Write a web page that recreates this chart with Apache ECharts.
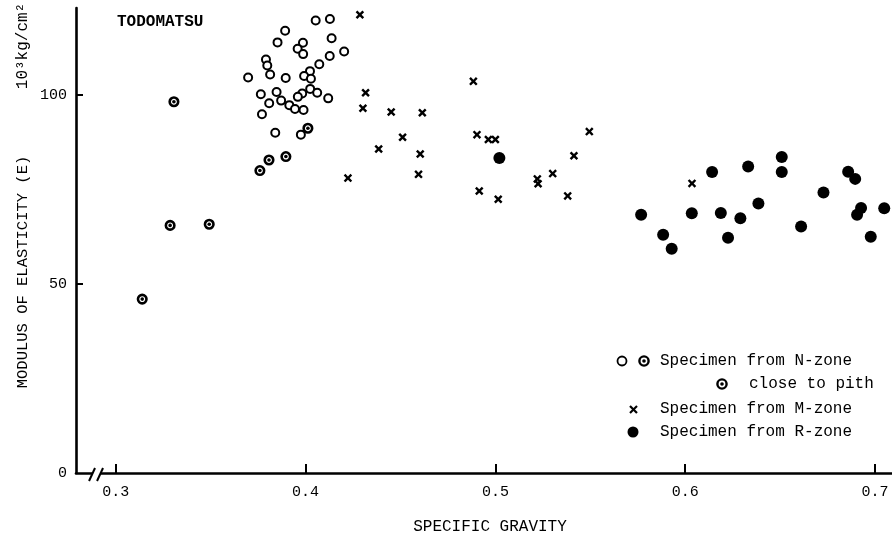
<!DOCTYPE html>
<html>
<head>
<meta charset="utf-8">
<script src="https://cdn.jsdelivr.net/npm/echarts@6/dist/echarts.min.js"></script>
<style>
html,body{margin:0;padding:0;background:#fff;}
#chart{width:892px;height:538px;}
</style>
</head>
<body>
<div id="chart"></div>
<script>
// ---- Data (specific gravity, modulus of elasticity 10^3 kg/cm^2) ----
const titleText = 'TODOMATSU';
const xTickValues = [0.3, 0.4, 0.5, 0.6, 0.7];
const yTickValues = [0, 50, 100];
const xAxisTitle = 'SPECIFIC GRAVITY';
const yAxisTitle = 'MODULUS OF ELASTICITY (E)';
const yUnit = '10³kg/cm²';
const legendLabels = ['Specimen from N-zone', 'close to pith', 'Specimen from M-zone', 'Specimen from R-zone'];

const nZoneOpen = [
  [0.4053,119.7],[0.4128,120.1],[0.3892,117.0],[0.3852,113.9],[0.4137,115.0],
  [0.3986,113.8],[0.3958,112.2],[0.3987,110.8],[0.4203,111.5],[0.4127,110.3],
  [0.3791,109.4],[0.3798,107.8],[0.4072,108.1],[0.4023,106.3],[0.3813,105.4],
  [0.3697,104.6],[0.3895,104.5],[0.3992,105.0],[0.4028,104.3],[0.3764,100.2],
  [0.3847,100.8],[0.3982,100.4],[0.4024,101.6],[0.4061,100.6],[0.3959,99.5],
  [0.4119,99.1],[0.3808,97.8],[0.3871,98.5],[0.3914,97.3],[0.3944,96.3],
  [0.3989,96.0],[0.3770,94.9],[0.3840,90.0],[0.3975,89.5]
];
const nZonePith = [
  [0.4012,91.2],[0.3807,82.8],[0.3896,83.7],[0.3759,80.0],
  [0.3306,98.2],[0.3286,65.5],[0.3492,65.8],[0.3139,46.0]
];
const mZone = [
  [0.4286,121.2],[0.4884,103.6],[0.4316,100.6],[0.4302,96.5],[0.4451,95.5],
  [0.4615,95.3],[0.4903,89.5],[0.4963,88.2],[0.5000,88.2],[0.5495,90.3],
  [0.4511,88.8],[0.4385,85.7],[0.4604,84.4],[0.5414,83.9],[0.4595,79.0],
  [0.4223,78.0],[0.5302,79.2],[0.5221,77.8],[0.5225,76.5],[0.4915,74.6],
  [0.5015,72.4],[0.5381,73.3],[0.6036,76.6]
];
const rZone = [
  [0.5021,83.3],[0.5768,68.3],[0.5884,63.0],[0.5929,59.3],[0.6035,68.7],
  [0.6142,79.6],[0.6188,68.8],[0.6226,62.2],[0.6291,67.4],[0.6332,81.1],
  [0.6386,71.3],[0.6509,83.6],[0.6509,79.6],[0.6611,65.2],[0.6729,74.2],
  [0.6859,79.7],[0.6896,77.8],[0.6927,70.1],[0.6906,68.3],[0.6978,62.5],
  [0.7049,70.0]
];

// ---- Chart ----
const FONT = '"Liberation Mono", "DejaVu Sans Mono", monospace';
const XPATH = 'path://M2,0L5,3L8,0L10,2L7,5L10,8L8,10L5,7L2,10L0,8L3,5L0,2Z';
const chart = echarts.init(document.getElementById('chart'), null, {renderer: 'canvas'});

const option = {
  backgroundColor: '#ffffff',
  animation: false,
  grid: {left: 76, right: 0, top: 8, bottom: 65, containLabel: false},
  xAxis: {
    type: 'value', min: 0.279, max: 0.709,
    axisLine: {show: true, onZero: false, lineStyle: {color: '#000', width: 2.6}},
    axisTick: {show: true, inside: true, length: 9, customValues: xTickValues, lineStyle: {color: '#000', width: 2}},
    axisLabel: {show: true, customValues: xTickValues, margin: 12, color: '#000', fontFamily: FONT, fontSize: 15,
      formatter: v => v.toFixed(1)},
    splitLine: {show: false}
  },
  yAxis: {
    type: 'value', min: 0, max: 123,
    axisLine: {show: true, onZero: false, lineStyle: {color: '#000', width: 2.6}},
    axisTick: {show: true, inside: true, length: 7, customValues: yTickValues.filter(v => v > 0), lineStyle: {color: '#000', width: 2}},
    axisLabel: {show: true, customValues: yTickValues, margin: 9, color: '#000', fontFamily: FONT, fontSize: 15,
      formatter: v => String(v)},
    splitLine: {show: false}
  },
  series: [
    {type: 'scatter', name: 'N-zone', data: nZoneOpen, symbol: 'circle', symbolSize: 8,
      itemStyle: {color: '#fff', borderColor: '#000', borderWidth: 2, opacity: 1}, z: 3},
    {type: 'scatter', name: 'N-zone pith ring', data: nZonePith, symbol: 'circle', symbolSize: 8.5,
      itemStyle: {color: '#fff', borderColor: '#000', borderWidth: 2.6, opacity: 1}, z: 3},
    {type: 'scatter', name: 'N-zone pith dot', data: nZonePith, symbol: 'circle', symbolSize: 3.6,
      itemStyle: {color: '#000', opacity: 1}, z: 4},
    {type: 'scatter', name: 'M-zone', data: mZone, symbol: XPATH, symbolSize: 8.5,
      itemStyle: {color: '#000', opacity: 1}, z: 3},
    {type: 'scatter', name: 'R-zone', data: rZone, symbol: 'circle', symbolSize: 12,
      itemStyle: {color: '#000', opacity: 1}, z: 3}
  ]
};
chart.setOption(option);

// ---- Decorations: titles, legend, axis break ----
function txt(x, y, s, opts) {
  return {
    type: 'text', x: x, y: y, z: 10,
    style: Object.assign({text: s, fill: '#000', font: '16px ' + FONT,
      textAlign: 'left', textVerticalAlign: 'middle', align: 'left', verticalAlign: 'middle'}, opts || {})
  };
}
const brk = chart.convertToPixel({gridIndex: 0}, [0.2885, 0]);
const bx = brk[0], by = brk[1];
const graphics = [
  txt(117, 22, titleText, {font: 'bold 16px ' + FONT}),
  txt(490, 527, xAxisTitle, {textAlign: 'center', align: 'center'}),
  Object.assign(txt(23, 272, yAxisTitle, {textAlign: 'center', align: 'center', font: '15.5px ' + FONT}), {rotation: Math.PI / 2}),
  Object.assign(txt(23, 46, yUnit, {textAlign: 'center', align: 'center'}), {rotation: Math.PI / 2}),
  // axis break
  {type: 'rect', z: 11, shape: {x: bx - 1, y: by - 2, width: 7, height: 4}, style: {fill: '#fff'}},
  {type: 'line', z: 12, shape: {x1: bx - 5, y1: by + 8, x2: bx + 1, y2: by - 5}, style: {stroke: '#000', lineWidth: 2}},
  {type: 'line', z: 12, shape: {x1: bx + 3, y1: by + 8, x2: bx + 9, y2: by - 5}, style: {stroke: '#000', lineWidth: 2}},
  // legend row 1
  {type: 'circle', z: 10, shape: {cx: 622, cy: 361, r: 4.5}, style: {fill: '#fff', stroke: '#000', lineWidth: 1.8}},
  {type: 'circle', z: 10, shape: {cx: 644, cy: 361, r: 4.6}, style: {fill: '#fff', stroke: '#000', lineWidth: 2.4}},
  {type: 'circle', z: 11, shape: {cx: 644, cy: 361, r: 1.8}, style: {fill: '#000'}},
  txt(660, 361, legendLabels[0]),
  // legend row 2
  {type: 'circle', z: 10, shape: {cx: 722, cy: 384, r: 4.6}, style: {fill: '#fff', stroke: '#000', lineWidth: 2.4}},
  {type: 'circle', z: 11, shape: {cx: 722, cy: 384, r: 1.8}, style: {fill: '#000'}},
  txt(749, 384, legendLabels[1]),
  // legend row 3
  {type: 'line', z: 10, shape: {x1: 630, y1: 406, x2: 637, y2: 413}, style: {stroke: '#000', lineWidth: 2.2}},
  {type: 'line', z: 10, shape: {x1: 637, y1: 406, x2: 630, y2: 413}, style: {stroke: '#000', lineWidth: 2.2}},
  txt(660, 409, legendLabels[2]),
  // legend row 4
  {type: 'circle', z: 10, shape: {cx: 633, cy: 432, r: 5.5}, style: {fill: '#000'}},
  txt(660, 432, legendLabels[3])
];
chart.setOption({graphic: {elements: graphics}});
</script>
</body>
</html>
